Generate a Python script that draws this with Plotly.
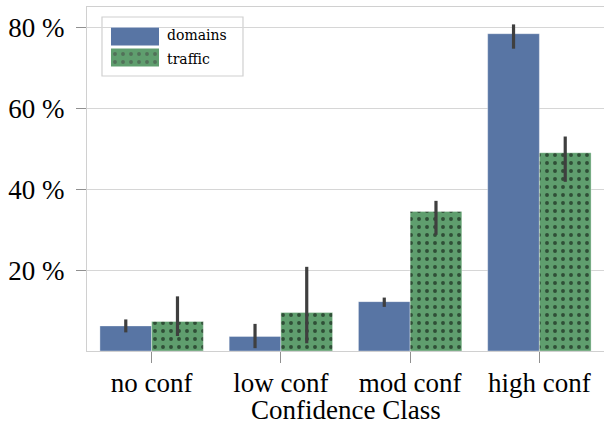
import plotly.graph_objects as go

categories = ["no conf", "low conf", "mod conf", "high conf"]
domains = [6.2, 3.6, 12.2, 78.4]
domains_ci_low = [4.6, 0.7, 10.9, 74.7]
domains_ci_high = [7.8, 6.7, 13.2, 80.7]
traffic = [7.3, 9.5, 34.5, 49.0]
traffic_ci_low = [3.7, 1.9, 28.7, 41.8]
traffic_ci_high = [13.5, 20.8, 37.1, 53.0]
y_ticks = [20, 40, 60, 80]
y_tick_labels = ["20 %", "40 %", "60 %", "80 %"]
series_names = ["domains", "traffic"]
x_title = "Confidence Class"

BLUE = "#5875A4"
GREEN = "#5F9E6E"
ERR = "#3f3f3f"
FONT = "Liberation Serif"

W, H = 604, 425
L, R, T, B = 87, 0, 7, 74
PW, PH = W - L - R, H - T - B


def px_x(x):
    return (x - L) / PW


def px_y(y):
    return (H - B - y) / PH


fig = go.Figure()

fig.add_trace(go.Bar(
    x=categories, y=domains, name=series_names[0],
    marker=dict(color=BLUE, line=dict(color="rgba(255,255,255,0.6)", width=0.6)),
    error_y=dict(type="data", symmetric=False,
                 array=[h - v for h, v in zip(domains_ci_high, domains)],
                 arrayminus=[v - l for v, l in zip(domains, domains_ci_low)],
                 color=ERR, thickness=3.2, width=0),
    showlegend=False,
))
fig.add_trace(go.Bar(
    x=categories, y=traffic, name=series_names[1],
    marker=dict(color=GREEN, line=dict(color="rgba(255,255,255,0.6)", width=0.6),
                pattern=dict(shape=".", fgcolor="black", bgcolor=GREEN,
                             size=8, solidity=0.19)),
    error_y=dict(type="data", symmetric=False,
                 array=[h - v for h, v in zip(traffic_ci_high, traffic)],
                 arrayminus=[v - l for v, l in zip(traffic, traffic_ci_low)],
                 color=ERR, thickness=3.2, width=0),
    showlegend=False,
))

# legend swatches drawn on a small auxiliary axis
fig.add_trace(go.Bar(
    y=[1, 0], x=[1, 1], orientation="h", xaxis="x2", yaxis="y2",
    width=0.86, showlegend=False, hoverinfo="skip",
    marker=dict(color=[BLUE, GREEN], line=dict(width=0),
                pattern=dict(shape=["", "."], fgcolor="black", bgcolor=[BLUE, GREEN],
                             size=8, solidity=0.19)),
))

fig.update_layout(
    width=W, height=H,
    margin=dict(l=L, r=R, t=T, b=B, pad=0),
    paper_bgcolor="white", plot_bgcolor="white",
    barmode="group", bargap=0.2, bargroupgap=0,
    font=dict(family=FONT, size=27, color="black"),
    xaxis=dict(
        range=[-0.5, 3.5], showgrid=False, showline=True, linecolor="#d0d0d0",
        linewidth=1.2, mirror=True, ticks="outside", ticklen=11, tickcolor="#909090",
        tickwidth=1, tickfont=dict(size=27), automargin=False, ticklabelstandoff=-4,
    ),
    yaxis=dict(
        range=[0, 85], tickvals=y_ticks, ticktext=y_tick_labels,
        showgrid=True, gridcolor="#d6d6d6", gridwidth=1.2, zeroline=False,
        showline=True, linecolor="#d0d0d0", linewidth=1.2, mirror=True,
        ticks="outside", ticklen=10, tickcolor="#909090", tickwidth=1,
        tickfont=dict(size=27), automargin=False, ticklabelstandoff=6,
    ),
    xaxis2=dict(domain=[px_x(111), px_x(159)], range=[0, 1], anchor="y2",
                visible=False, fixedrange=True),
    yaxis2=dict(domain=[px_y(68), px_y(26)], range=[-0.5, 1.5], anchor="x2",
                visible=False, fixedrange=True),
    shapes=[dict(type="rect", xref="paper", yref="paper",
                 x0=px_x(102), x1=px_x(243), y0=px_y(76), y1=px_y(17),
                 line=dict(color="#d0d0d0", width=1.2), fillcolor="white",
                 layer="between")],
    annotations=[
        dict(text=series_names[0], xref="paper", yref="paper", x=px_x(165), y=px_y(35),
             xanchor="left", yanchor="middle", showarrow=False,
             font=dict(family="DejaVu Serif", size=14)),
        dict(text=series_names[1], xref="paper", yref="paper", x=px_x(165), y=px_y(59),
             xanchor="left", yanchor="middle", showarrow=False,
             font=dict(family="DejaVu Serif", size=14)),
        dict(text=x_title, xref="paper", yref="paper", x=0.5, y=px_y(410),
             xanchor="center", yanchor="middle", showarrow=False,
             font=dict(family=FONT, size=27)),
    ],
)

fig.write_html("out.html", config={"displayModeBar": False},
               post_script="document.body.style.margin='0';document.body.style.overflow='hidden';")
